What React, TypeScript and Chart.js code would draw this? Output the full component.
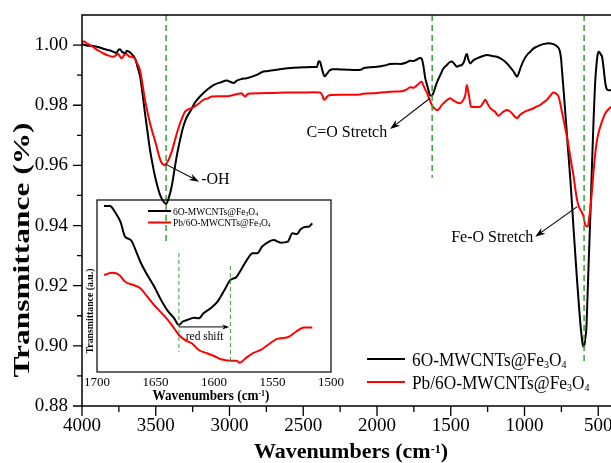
import { useEffect, useRef } from 'react';
import { Chart, registerables } from 'chart.js';

Chart.register(...registerables);

const SERIF = "'Liberation Serif', 'Times New Roman', Times, serif";
const GREEN = '#35a035';

// ---- FTIR spectrum, 6O-MWCNTs@Fe3O4 (black) ----
const blackWn = [
  4000, 3960, 3923, 3880, 3850, 3810, 3780, 3765, 3752, 3742, 3730, 3718, 3708, 3697, 3686, 3675, 3663, 3650,
  3640, 3625, 3606, 3590, 3573, 3556, 3539, 3522, 3505, 3488, 3471, 3450, 3430, 3412, 3392, 3375, 3358, 3335,
  3313, 3290, 3267, 3235, 3200, 3150, 3109, 3060, 3018, 2995, 2973, 2950, 2920, 2883, 2820, 2770, 2747, 2680,
  2620, 2566, 2500, 2440, 2408, 2395, 2385, 2370, 2355, 2340, 2320, 2300, 2250, 2200, 2150, 2110, 2092, 2050,
  2000, 1950, 1911, 1870, 1843, 1800, 1775, 1752, 1730, 1707, 1696, 1685, 1673, 1662, 1650, 1639, 1628, 1617,
  1605, 1590, 1571, 1550, 1526, 1510, 1492, 1475, 1458, 1440, 1424, 1410, 1398, 1390, 1382, 1368, 1350, 1322,
  1290, 1254, 1220, 1187, 1150, 1119, 1095, 1074, 1060, 1051, 1040, 1028, 1005, 983, 960, 938, 915, 893, 865,
  837, 810, 791, 775, 762, 752, 746, 735, 723, 706, 689, 678, 667, 655, 644, 633, 622, 612, 603, 595, 588, 581,
  573, 565, 553, 542, 531, 520, 510, 503, 497, 490, 482, 474, 463, 452, 441, 425, 400,
];
const blackT = [
  1.0003, 0.9998, 0.9997, 0.9992, 0.9987, 0.9982, 0.9976, 0.9974, 0.9985, 0.9986, 0.9978, 0.9975, 0.997, 0.9981,
  0.9979, 0.9976, 0.997, 0.9963, 0.9955, 0.993, 0.9895, 0.984, 0.9774, 0.9712, 0.9652, 0.9605, 0.9563, 0.953,
  0.9502, 0.9482, 0.9472, 0.9492, 0.953, 0.958, 0.963, 0.9685, 0.9729, 0.976, 0.9779, 0.9808, 0.9829, 0.9852,
  0.9867, 0.9876, 0.9882, 0.9878, 0.9874, 0.9882, 0.9887, 0.989, 0.99, 0.9912, 0.9913, 0.9918, 0.9922, 0.9925,
  0.9926, 0.9927, 0.9927, 0.9946, 0.9943, 0.9915, 0.9896, 0.9904, 0.9916, 0.992, 0.9919, 0.9918, 0.9917, 0.9918,
  0.9923, 0.9926, 0.9928, 0.9932, 0.9937, 0.9938, 0.9937, 0.9942, 0.9948, 0.9947, 0.9952, 0.9957, 0.9954, 0.993,
  0.989, 0.987, 0.9848, 0.9832, 0.9832, 0.9842, 0.986, 0.988, 0.99, 0.9922, 0.9934, 0.9942, 0.9945, 0.9937,
  0.9928, 0.9932, 0.9934, 0.9945, 0.9965, 0.997, 0.9955, 0.9939, 0.9948, 0.9956, 0.9962, 0.9967, 0.9964, 0.9961,
  0.9952, 0.9939, 0.9925, 0.9912, 0.99, 0.9895, 0.9905, 0.9923, 0.995, 0.9967, 0.9978, 0.9989, 0.9995, 1.0,
  1.0004, 1.0006, 1.0004, 1.0, 0.9994, 0.9983, 0.9955, 0.9917, 0.985, 0.9773, 0.966, 0.9552, 0.947, 0.9386, 0.93,
  0.922, 0.9148, 0.9078, 0.903, 0.8998, 0.9, 0.9025, 0.9055, 0.916, 0.9276, 0.944, 0.9608, 0.976, 0.9884, 0.9945,
  0.9972, 0.9978, 0.9975, 0.9968, 0.9961, 0.992, 0.9873, 0.9853, 0.985, 0.985,
];

// ---- FTIR spectrum, Pb/6O-MWCNTs@Fe3O4 (red) ----
const redWn = [
  4000, 3985, 3968, 3945, 3923, 3890, 3855, 3820, 3788, 3770, 3754, 3742, 3731, 3715, 3697, 3680, 3663, 3650,
  3640, 3625, 3606, 3590, 3573, 3556, 3539, 3516, 3494, 3477, 3460, 3445, 3437, 3420, 3403, 3386, 3369, 3352,
  3335, 3318, 3301, 3280, 3245, 3210, 3177, 3150, 3120, 3070, 3018, 2960, 2917, 2905, 2894, 2880, 2850, 2792,
  2700, 2620, 2566, 2500, 2440, 2385, 2370, 2360, 2345, 2330, 2306, 2250, 2200, 2114, 2092, 2000, 1950, 1911,
  1870, 1843, 1800, 1775, 1752, 1730, 1707, 1696, 1685, 1673, 1662, 1645, 1628, 1612, 1594, 1583, 1560, 1530,
  1503, 1485, 1469, 1452, 1435, 1410, 1401, 1394, 1390, 1385, 1379, 1370, 1363, 1330, 1300, 1280, 1266, 1250,
  1232, 1200, 1176, 1150, 1119, 1100, 1085, 1065, 1051, 1030, 1006, 970, 938, 915, 893, 870, 848, 825, 803, 785,
  769, 755, 745, 735, 718, 701, 684, 667, 655, 644, 633, 622, 612, 604, 596, 588, 578, 570, 562, 554, 542, 531,
  520, 508, 497, 486, 470, 452, 430, 411, 400,
];
const redT = [
  1.0011, 1.0012, 1.0006, 1.0, 0.9993, 0.9982, 0.9972, 0.9965, 0.9961, 0.9966, 0.997, 0.9962, 0.9956, 0.9966,
  0.997, 0.9962, 0.9961, 0.9958, 0.9954, 0.9938, 0.9915, 0.987, 0.9818, 0.9778, 0.974, 0.97, 0.9663, 0.963,
  0.9608, 0.9602, 0.96, 0.9612, 0.963, 0.9655, 0.9685, 0.9715, 0.974, 0.9762, 0.9779, 0.9786, 0.9793, 0.9805,
  0.9818, 0.9822, 0.9829, 0.983, 0.983, 0.9836, 0.984, 0.9833, 0.9829, 0.9836, 0.9839, 0.984, 0.9841, 0.9842,
  0.9842, 0.9842, 0.9843, 0.9842, 0.9832, 0.9818, 0.9824, 0.9832, 0.9834, 0.9835, 0.9835, 0.9836, 0.9838, 0.9841,
  0.9843, 0.9845, 0.9846, 0.9846, 0.9852, 0.986, 0.9858, 0.9866, 0.9876, 0.9878, 0.9866, 0.9852, 0.9843, 0.982,
  0.9801, 0.979, 0.9784, 0.9786, 0.9801, 0.9815, 0.9823, 0.9817, 0.9812, 0.9808, 0.9807, 0.9822, 0.9834, 0.986,
  0.9867, 0.9855, 0.984, 0.9812, 0.9795, 0.9794, 0.9795, 0.9808, 0.9818, 0.9805, 0.979, 0.9778, 0.9765, 0.9776,
  0.9784, 0.978, 0.9773, 0.9762, 0.9757, 0.9768, 0.9776, 0.9784, 0.979, 0.9796, 0.9801, 0.981, 0.9818, 0.9832,
  0.9842, 0.9838, 0.9829, 0.98, 0.9775, 0.9751, 0.971, 0.9663, 0.9612, 0.9563, 0.952, 0.9486, 0.9465, 0.9453,
  0.9445, 0.9436, 0.942, 0.9403, 0.9397, 0.9397, 0.9425, 0.9453, 0.952, 0.9585, 0.964, 0.9685, 0.971, 0.9729,
  0.9752, 0.9773, 0.9787, 0.9795, 0.9797,
];

// ---- inset: C=O band, 1700-1500 cm-1 (arbitrary units) ----
const insetBlackWn = [
  1694, 1689, 1684, 1680, 1676, 1671, 1667, 1663, 1657, 1651, 1646, 1640, 1634, 1630, 1627, 1623, 1617, 1613,
  1609, 1603, 1597, 1591, 1586, 1581, 1577, 1571, 1567, 1563, 1559, 1553, 1549, 1543, 1537, 1533, 1529, 1526,
  1521, 1519, 1516,
];
const insetBlackA = [
  0.965, 0.965, 0.923, 0.874, 0.787, 0.767, 0.709, 0.641, 0.564, 0.496, 0.428, 0.36, 0.312, 0.273, 0.292, 0.302,
  0.316, 0.312, 0.341, 0.37, 0.409, 0.477, 0.535, 0.551, 0.593, 0.661, 0.69, 0.69, 0.728, 0.758, 0.767, 0.752,
  0.758, 0.806, 0.802, 0.83, 0.845, 0.845, 0.864,
];
const insetRedWn = [
  1694, 1687, 1681, 1676, 1669, 1663, 1657, 1650, 1643, 1636, 1630, 1624, 1619, 1613, 1606, 1600, 1594, 1586,
  1581, 1578, 1573, 1567, 1560, 1554, 1547, 1543, 1536, 1530, 1523, 1516,
];
const insetRedA = [
  0.564, 0.577, 0.564, 0.525, 0.506, 0.487, 0.438, 0.38, 0.331, 0.273, 0.215, 0.182, 0.167, 0.128, 0.109, 0.093,
  0.074, 0.066, 0.066, 0.054, 0.08, 0.109, 0.128, 0.157, 0.19, 0.196, 0.205, 0.234, 0.258, 0.258,
];

// ---- axes ----
const xMajorTicks = [4000, 3500, 3000, 2500, 2000, 1500, 1000, 500];
const xMinorTicks = [3750, 3250, 2750, 2250, 1750, 1250, 750];
const yMajorTicks = [0.88, 0.9, 0.92, 0.94, 0.96, 0.98, 1.0];
const yMinorTicks = [0.89, 0.91, 0.93, 0.95, 0.97, 0.99];
const insetXTicks = [1700, 1650, 1600, 1550, 1500];

// ---- band markers and labels ----
const peakMarkers = [
  { wn: 3430, low: 0.9343 },
  { wn: 1626, low: 0.9559 },
  { wn: 596, low: 0.8939 },
];
const bandLabels = [
  { text: '-OH', from: [3437, 0.9605], to: [3206, 0.9546], at: [3192, 0.9539], align: 'left' },
  { text: 'C=O Stretch', from: [1639, 0.9824], to: [1911, 0.9721], at: [1931, 0.9696], align: 'right' },
  { text: 'Fe-O Stretch', from: [642, 0.9463], to: [927, 0.9363], at: [940, 0.9344], align: 'right' },
];
const insetMarkers = [
  { wn: 1630, low: 0.116, high: 0.692 },
  { wn: 1586, low: 0.052, high: 0.616 },
];
const shiftArrow = { from: 1630, to: 1587, level: 0.262, text: 'red shift', textWn: 1608, textLevel: 0.186 };

const seriesLabels = ['6O-MWCNTs@Fe3O4', 'Pb/6O-MWCNTs@Fe3O4'];
const seriesColors = ['#000000', '#ff0000'];
// legend names split into normal / subscript runs
const seriesRuns = [
  ['6O-MWCNTs@Fe', '3', 'O', '4'],
  ['Pb/6O-MWCNTs@Fe', '3', 'O', '4'],
];

type Seg = { t: string; size: number; bold?: boolean; dy?: number };

function richText(
  ctx: CanvasRenderingContext2D,
  segs: Seg[],
  x: number,
  y: number,
  align: 'left' | 'center' | 'right',
  opts: { sx?: number; rot?: number; fitLen?: number } = {},
) {
  ctx.save();
  ctx.translate(x, y);
  if (opts.rot) ctx.rotate(opts.rot);
  const fontOf = (s: Seg) => `${s.bold ? 'bold ' : ''}${s.size}px ${SERIF}`;
  let total = 0;
  const widths = segs.map((s) => {
    ctx.font = fontOf(s);
    const w = ctx.measureText(s.t).width;
    total += w;
    return w;
  });
  let sx = opts.sx ?? 1;
  if (opts.fitLen) sx = opts.fitLen / total;
  ctx.scale(sx, 1);
  let cx = align === 'left' ? 0 : align === 'center' ? -total / 2 : -total;
  ctx.fillStyle = '#000';
  ctx.textAlign = 'left';
  ctx.textBaseline = 'alphabetic';
  segs.forEach((s, i) => {
    ctx.font = fontOf(s);
    ctx.fillText(s.t, cx, s.dy ?? 0);
    cx += widths[i];
  });
  ctx.restore();
}

function arrow(ctx: CanvasRenderingContext2D, x1: number, y1: number, x2: number, y2: number, head: number, half: number) {
  const a = Math.atan2(y2 - y1, x2 - x1);
  const c = Math.cos(a);
  const s = Math.sin(a);
  ctx.beginPath();
  ctx.moveTo(x1, y1);
  ctx.lineTo(x2 - c * head * 0.6, y2 - s * head * 0.6);
  ctx.stroke();
  ctx.beginPath();
  ctx.moveTo(x2, y2);
  ctx.lineTo(x2 - head * c + half * s, y2 - head * s - half * c);
  ctx.lineTo(x2 - head * 0.7 * c, y2 - head * 0.7 * s);
  ctx.lineTo(x2 - head * c - half * s, y2 - head * s + half * c);
  ctx.closePath();
  ctx.fill();
}

function nameRuns(runs: string[], size: number, sub: number): Seg[] {
  return runs.map((t, i) => (i % 2 === 1 ? { t, size: sub, dy: size * 0.12 } : { t, size }));
}

const mainDecor = {
  id: 'mainDecor',
  afterDatasetsDraw(chart: any) {
    const ctx: CanvasRenderingContext2D = chart.ctx;
    const { left, right, top, bottom } = chart.chartArea;
    const xs = chart.scales.x;
    const ys = chart.scales.y;
    const px = (v: number) => xs.getPixelForValue(v);
    const py = (v: number) => ys.getPixelForValue(v);
    ctx.save();

    // dashed band markers
    ctx.strokeStyle = GREEN;
    ctx.lineWidth = 1.5;
    ctx.setLineDash([6, 4]);
    peakMarkers.forEach((m) => {
      ctx.beginPath();
      ctx.moveTo(px(m.wn), top);
      ctx.lineTo(px(m.wn), py(m.low));
      ctx.stroke();
    });
    ctx.setLineDash([]);

    // frame and ticks
    ctx.strokeStyle = '#000';
    ctx.lineWidth = 1.5;
    ctx.strokeRect(left, top, right - left, bottom - top);
    ctx.lineWidth = 1.3;
    ctx.beginPath();
    yMajorTicks.forEach((v) => { ctx.moveTo(left - 9, py(v)); ctx.lineTo(left, py(v)); });
    yMinorTicks.forEach((v) => { ctx.moveTo(left - 5, py(v)); ctx.lineTo(left, py(v)); });
    xMajorTicks.forEach((v) => { ctx.moveTo(px(v), bottom); ctx.lineTo(px(v), bottom + 10); });
    xMinorTicks.forEach((v) => { ctx.moveTo(px(v), bottom); ctx.lineTo(px(v), bottom + 6); });
    ctx.stroke();

    // band annotations
    ctx.fillStyle = '#000';
    ctx.strokeStyle = '#000';
    ctx.lineWidth = 1.1;
    bandLabels.forEach((b) => {
      arrow(ctx, px(b.from[0]), py(b.from[1]), px(b.to[0]), py(b.to[1]), 10, 3.5);
      richText(ctx, [{ t: b.text, size: 16 }], px(b.at[0]), py(b.at[1]), b.align as 'left' | 'right');
    });

    // legend
    const rows = [359, 382];
    rows.forEach((ly, i) => {
      ctx.strokeStyle = seriesColors[i];
      ctx.lineWidth = 2;
      ctx.beginPath();
      ctx.moveTo(367, ly);
      ctx.lineTo(405, ly);
      ctx.stroke();
      richText(ctx, nameRuns(seriesRuns[i], 19, 11), 412, ly + 6.8, 'left', { sx: 0.91 });
    });

    // axis titles
    richText(
      ctx,
      [
        { t: 'Wavenumbers (cm', size: 22, bold: true },
        { t: '-1', size: 12, bold: true, dy: -5 },
        { t: ')', size: 22, bold: true },
      ],
      351,
      458,
      'center',
    );
    richText(ctx, [{ t: 'Transmittance (%)', size: 23, bold: true }], 29, 250, 'center', {
      rot: -Math.PI / 2,
      fitLen: 255,
    });
    ctx.restore();
  },
};

const insetDecor = {
  id: 'insetDecor',
  afterDatasetsDraw(chart: any) {
    const ctx: CanvasRenderingContext2D = chart.ctx;
    const { left, right, top, bottom } = chart.chartArea;
    const xs = chart.scales.x;
    const ys = chart.scales.y;
    const px = (v: number) => xs.getPixelForValue(v);
    const py = (v: number) => ys.getPixelForValue(v);
    ctx.save();

    ctx.strokeStyle = GREEN;
    ctx.lineWidth = 1;
    ctx.setLineDash([4, 3]);
    insetMarkers.forEach((m) => {
      ctx.beginPath();
      ctx.moveTo(px(m.wn), py(m.high));
      ctx.lineTo(px(m.wn), py(m.low));
      ctx.stroke();
    });
    ctx.setLineDash([]);

    ctx.strokeStyle = '#000';
    ctx.lineWidth = 1.2;
    ctx.strokeRect(left, top, right - left, bottom - top);

    ctx.fillStyle = '#000';
    ctx.lineWidth = 1;
    arrow(ctx, px(shiftArrow.from), py(shiftArrow.level), px(shiftArrow.to), py(shiftArrow.level), 7, 2.5);
    richText(ctx, [{ t: shiftArrow.text, size: 12 }], px(shiftArrow.textWn), py(shiftArrow.textLevel), 'center', {
      sx: 0.95,
    });

    // inset legend
    const rows = [16, 27.5];
    rows.forEach((ly, i) => {
      ctx.strokeStyle = seriesColors[i];
      ctx.lineWidth = 2;
      ctx.beginPath();
      ctx.moveTo(68, ly);
      ctx.lineTo(91, ly);
      ctx.stroke();
      richText(ctx, nameRuns(seriesRuns[i], 10, 6), 93, ly + 3.5, 'left', { sx: 0.95 });
    });

    richText(
      ctx,
      [
        { t: 'Wavenumbers (cm', size: 15, bold: true },
        { t: '-1', size: 9, bold: true, dy: -4 },
        { t: ')', size: 15, bold: true },
      ],
      (left + right) / 2 - 3,
      205,
      'center',
      { sx: 0.88 },
    );
    richText(ctx, [{ t: 'Transmittance (a.u.)', size: 11, bold: true }], 13, 116, 'center', {
      rot: -Math.PI / 2,
      fitLen: 85,
    });
    ctx.restore();
  },
};

function lineSet(label: string, wn: number[], vals: number[], color: string, order: number) {
  return {
    label,
    data: wn.map((w, i) => ({ x: w, y: vals[i] })),
    borderColor: color,
    backgroundColor: color,
    borderWidth: 2,
    pointRadius: 0,
    cubicInterpolationMode: 'monotone' as const,
    fill: false,
    order,
  };
}

export default function App() {
  const mainRef = useRef<HTMLCanvasElement>(null);
  const insetRef = useRef<HTMLCanvasElement>(null);

  useEffect(() => {
    const main = new Chart(mainRef.current!, {
      type: 'line',
      data: {
        datasets: [
          lineSet(seriesLabels[0], blackWn, blackT, seriesColors[0], 1),
          lineSet(seriesLabels[1], redWn, redT, seriesColors[1], 0),
        ],
      },
      options: {
        responsive: false,
        animation: false,
        devicePixelRatio: 1,
        events: [],
        layout: { padding: { left: 0, top: 15, right: 17, bottom: 0 } },
        plugins: { legend: { display: false }, tooltip: { enabled: false } },
        scales: {
          x: {
            type: 'linear',
            min: 400,
            max: 4000,
            reverse: true,
            border: { display: false },
            grid: { display: false, drawTicks: false },
            afterBuildTicks: (s: any) => { s.ticks = xMajorTicks.map((v) => ({ value: v })); },
            afterFit: (s: any) => {
              s.height = 57;
              s.paddingLeft = 0;
              s.paddingRight = 0;
            },
            ticks: {
              autoSkip: false,
              maxRotation: 0,
              padding: 9,
              color: '#000',
              font: { family: SERIF, size: 19 },
              callback: (v: any) => String(v),
            },
          },
          y: {
            type: 'linear',
            min: 0.88,
            max: 1.01,
            border: { display: false },
            grid: { display: false, drawTicks: false },
            afterBuildTicks: (s: any) => { s.ticks = yMajorTicks.map((v) => ({ value: v })); },
            afterFit: (s: any) => {
              s.width = 82;
              s.paddingTop = 0;
              s.paddingBottom = 0;
            },
            ticks: {
              padding: 14,
              color: '#000',
              font: { family: SERIF, size: 19 },
              callback: (v: any) => Number(v).toFixed(2),
            },
          },
        },
      },
      plugins: [mainDecor],
    } as any);

    const inset = new Chart(insetRef.current!, {
      type: 'line',
      data: {
        datasets: [
          lineSet(seriesLabels[0], insetBlackWn, insetBlackA, seriesColors[0], 1),
          lineSet(seriesLabels[1], insetRedWn, insetRedA, seriesColors[1], 0),
        ],
      },
      options: {
        responsive: false,
        animation: false,
        devicePixelRatio: 1,
        events: [],
        layout: { padding: { left: 17, top: 5, right: 19, bottom: 0 } },
        plugins: { legend: { display: false }, tooltip: { enabled: false } },
        scales: {
          x: {
            type: 'linear',
            min: 1500,
            max: 1700,
            reverse: true,
            border: { display: false },
            grid: { display: false, drawTicks: false },
            afterBuildTicks: (s: any) => { s.ticks = insetXTicks.map((v) => ({ value: v })); },
            afterFit: (s: any) => {
              s.height = 38;
              s.paddingLeft = 0;
              s.paddingRight = 0;
            },
            ticks: {
              autoSkip: false,
              maxRotation: 0,
              padding: 3,
              color: '#000',
              font: { family: SERIF, size: 13 },
              callback: (v: any) => String(v),
            },
          },
          y: { type: 'linear', min: 0, max: 1, display: false },
        },
      },
      plugins: [insetDecor],
    } as any);

    return () => {
      main.destroy();
      inset.destroy();
    };
  }, []);

  return (
    <div
      style={{
        position: 'fixed',
        left: 0,
        top: 0,
        width: 611,
        height: 463,
        overflow: 'hidden',
        background: '#fff',
      }}
    >
      <canvas
        ref={mainRef}
        width={630}
        height={463}
        style={{ position: 'absolute', left: 0, top: 0, width: 630, height: 463 }}
      />
      <canvas
        ref={insetRef}
        width={270}
        height={215}
        style={{ position: 'absolute', left: 80, top: 195, width: 270, height: 215 }}
      />
    </div>
  );
}
